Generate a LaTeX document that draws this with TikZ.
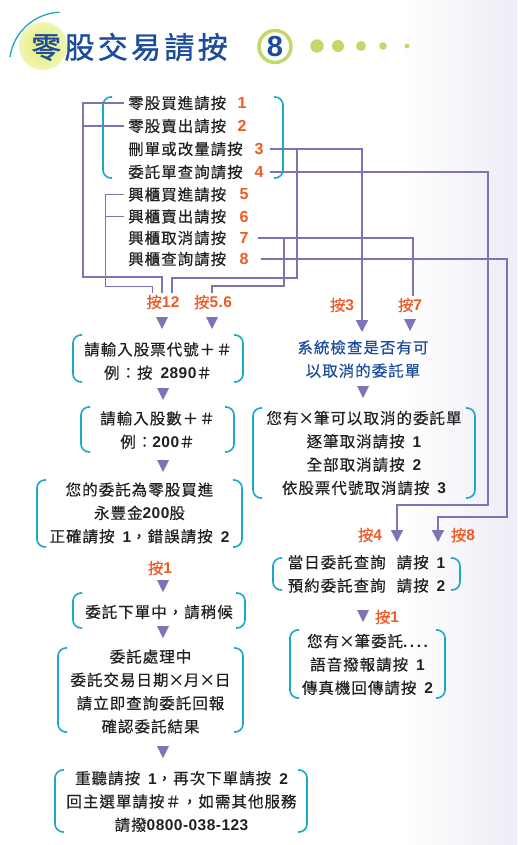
\documentclass[tikz,border=0pt]{standalone}
\usepackage{fontspec}
\setmainfont{Noto Sans CJK TC}[LetterSpace=6.5,FakeBold=0.35]
\newfontfamily\numf{Liberation Sans}[LetterSpace=3]
\newfontfamily\titlef{Noto Sans CJK TC}[LetterSpace=11,FakeBold=1]
\newfontfamily\eightf{Liberation Sans}
\usetikzlibrary{arrows.meta}
\definecolor{ink}{HTML}{231F20}
\definecolor{linec}{HTML}{7B75B8}
\definecolor{orng}{HTML}{F15A24}
\definecolor{tealc}{HTML}{1BA8C6}
\definecolor{navy}{HTML}{1D4C9C}
\definecolor{lime}{HTML}{C3D86A}
\definecolor{glow}{HTML}{E9F08E}
\definecolor{lav}{HTML}{EEECF5}
\pgfdeclareradialshading{glowsh}{\pgfpoint{0bp}{0bp}}{color(0bp)=(glow); color(12bp)=(glow); color(50bp)=(white)}
\newcommand\nb[1]{{\numf\bfseries #1}}
\newcommand\X{\makebox[1em]{×}}
\newcommand\gap{\hspace{8pt}}
\newcommand\parens[4]{%
  \draw[paren] (#1+9,#2) -- (#1,#2) -- (#1,#4) -- (#1+9,#4);
  \draw[paren] (#3-9,#2) -- (#3,#2) -- (#3,#4) -- (#3-9,#4);}
\newcommand\dtri[2]{\fill[linec] (#1-6,#2) -- (#1+6,#2) -- (#1,#2+12) -- cycle;}
\tikzset{
  conn/.style={draw=linec,line width=1.4pt},
  connthin/.style={draw=linec,line width=0.9pt},
  tip/.style={-{Triangle[width=12pt,length=12pt]}},
  paren/.style={draw=tealc,line width=1.6pt,rounded corners=8pt},
  body/.style={font=\fontsize{15.5}{23.3}\selectfont,text=ink,align=center,inner sep=0pt},
  menu/.style={font=\fontsize{15.5}{20}\selectfont,text=ink,anchor=west,inner xsep=4pt,inner ysep=0pt},
  numo/.style={font=\numf\bfseries\fontsize{16}{16}\selectfont,text=orng,inner sep=0pt},
  lab/.style={font=\fontsize{15.5}{18}\selectfont,text=orng,inner sep=1.5pt},
}
\begin{document}
\begin{tikzpicture}[x=1pt,y=-1pt]
\useasboundingbox (0,0) rectangle (517,845);
\fill[white] (0,0) rectangle (517,845);
\shade[left color=white,right color=lav] (400,0) rectangle (517,845);

% title
\shade[shading=glowsh] (43,46) circle (24pt);
\draw[tealc,line width=1.3pt] (10,57) arc[start angle=172,end angle=92,radius=52pt];
\node[anchor=west,font=\titlef\fontsize{30}{30}\selectfont,text=navy,inner sep=0pt] (title) at (31,47) {零股交易請按};
\draw[lime,line width=3.5pt] (275,46.5) circle (16pt);
\node[font=\eightf\bfseries\fontsize{29}{29}\selectfont,text=navy,inner sep=0pt] (eight) at (275,46.5) {8};
\fill[lime] (317,46) circle (6.7pt);
\fill[lime] (338,46) circle (6pt);
\fill[lime] (361,46) circle (5pt);
\fill[lime] (383,46) circle (3.8pt);
\fill[lime] (407,46) circle (2.4pt);

% menu
\node[menu] (m1) at (124,103) {零股買進請按};
\node[menu] (m2) at (124,126) {零股賣出請按};
\node[menu] (m3) at (124,149) {刪單或改量請按};
\node[menu] (m4) at (124,172) {委託單查詢請按};
\node[menu] (m5) at (124,194.5) {興櫃買進請按};
\node[menu] (m6) at (124,216.5) {興櫃賣出請按};
\node[menu] (m7) at (124,238) {興櫃取消請按};
\node[menu] (m8) at (124,259) {興櫃查詢請按};
\node[numo] (n1) at (242,103) {1};
\node[numo] (n2) at (242,126) {2};
\node[numo] (n3) at (259,149) {3};
\node[numo] (n4) at (259,172) {4};
\node[numo] (n5) at (244,194.5) {5};
\node[numo] (n6) at (244,216.5) {6};
\node[numo] (n7) at (244,238) {7};
\node[numo] (n8) at (244,259) {8};
\parens{103}{97}{283}{178}

% labels
\node[lab] (l12) at (163,302) {按\nb{12}};
\node[lab] (l56) at (213,302) {按\nb{5.6}};
\node[lab] (l3) at (342,305) {按\nb{3}};
\node[lab] (l7) at (410,305) {按\nb{7}};
\node[lab] (l4) at (370,535) {按\nb{4}};
\node[lab] (l8) at (463,535) {按\nb{8}};
\node[lab] (l1a) at (160,568) {按\nb{1}};
\node[lab] (l1b) at (387,617) {按\nb{1}};

% connectors
\coordinate (busA) at (83,277);
\draw[conn] (m1.west) -| (busA) -| ([xshift=-1pt]l12.north);
\draw[conn] (m2.west) -- (m2.west -| busA);
\coordinate (busB) at (105,286);
\draw[connthin] (m5.west) -| (busB) -| ([xshift=-11pt]l12.north);
\draw[connthin] (m6.west) -- (m6.west -| busB);
\coordinate (t3) at (362,332);
\draw[conn,tip] ([xshift=6pt]n3.east) -| (t3);
\coordinate (c3) at (297,278);
\draw[conn] (n3.east -| c3) -- (c3) -| ([xshift=9pt]l12.north);
\draw[conn] ([xshift=9pt]n7.east) -| ([xshift=3pt]l7.north);
\coordinate (c7) at (284,286);
\draw[conn] (n7.east -| c7) -- (c7) -| ([xshift=-1pt]l56.north);
\coordinate (c4) at (488,505);
\coordinate (t4) at (397,542);
\draw[conn,tip] ([xshift=6pt]n4.east) -| (c4) -| (t4);
\coordinate (c8) at (507,517);
\coordinate (t8) at (438,542);
\draw[conn,tip] ([xshift=12pt]n8.east) -| (c8) -| (t8);

% triangles
\dtri{162}{317}
\dtri{212}{317}
\dtri{410}{319}
\dtri{363}{386}
\dtri{163}{388}
\dtri{163}{460}
\dtri{163}{580}
\dtri{163}{626}
\dtri{163}{746}
\dtri{363}{610}

% boxes
\node[body] (b1) at (158,361) {請輸入股票代號＋＃\\例：按\gap\nb{2890}＃};
\parens{73}{335}{243}{382}
\node[body] (b2) at (157.5,430) {請輸入股數＋＃\\例：\nb{200}＃};
\parens{81}{407}{234}{452}
\node[body] (b3) at (139.5,513) {您的委託為零股買進\\永豐金\nb{200}股\\正確請按\gap\nb{1}，錯誤請按\gap\nb{2}};
\parens{37}{480}{242}{547}
\node[body,text=navy] (sys) at (363,359) {系統檢查是否有可\\以取消的委託單};
\node[body] (b4) at (364,453) {您有\X 筆可以取消的委託單\\逐筆取消請按\gap\nb{1}\\全部取消請按\gap\nb{2}\\依股票代號取消請按\gap\nb{3}};
\parens{253}{408}{475}{498}
\node[body] (b5) at (366.5,574) {當日委託查詢\hspace{11pt}請按\gap\nb{1}\\預約委託查詢\hspace{11pt}請按\gap\nb{2}};
\parens{273}{558}{460}{590}
\node[body] (b6) at (367.5,664.5) {您有\X 筆委託\nb{.\hspace{2.5pt}.\hspace{2.5pt}.\hspace{2.5pt}.}\\語音撥報請按\gap\nb{1}\\傳真機回傳請按\gap\nb{2}};
\parens{290}{630}{445}{698}
\node[body] (b7) at (159,612) {委託下單中，請稍候};
\parens{73}{593}{245}{628}
\node[body] (b8) at (150.5,691.5) {委託處理中\\委託交易日期\X 月\X 日\\請立即查詢委託回報\\確認委託結果};
\parens{58}{648}{243}{732}
\node[body] (b9) at (181.5,801.5) {重聽請按\gap\nb{1}，再次下單請按\gap\nb{2}\\回主選單請按＃，如需其他服務\\請撥\nb{0800-038-123}};
\parens{55}{770}{307}{832}
\end{tikzpicture}
\end{document}
